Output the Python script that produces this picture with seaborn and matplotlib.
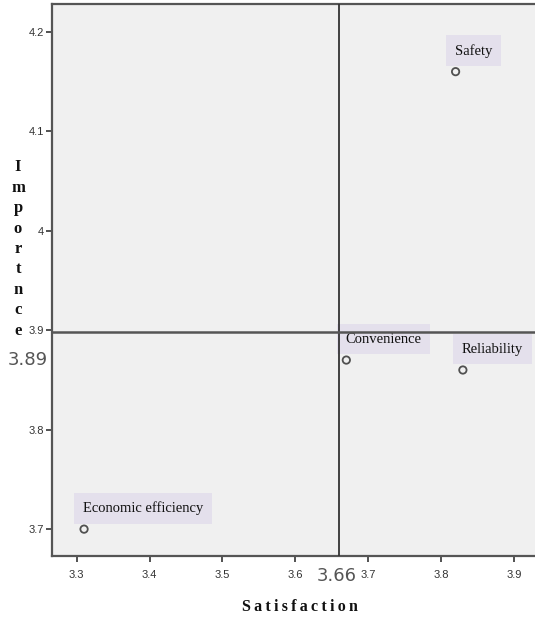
import matplotlib
matplotlib.use("Agg")
import matplotlib.pyplot as plt
import seaborn as sns
import pandas as pd

# Данные
factors = ["Safety", "Convenience", "Reliability", "Economic efficiency"]
satisfaction = [3.82, 3.67, 3.83, 3.31]
importance = [4.16, 3.87, 3.86, 3.70]
mean_satisfaction = 3.66
mean_importance = 3.898
mean_importance_label = "3.89"
mean_satisfaction_label = "3.66"
x_ticks = [3.3, 3.4, 3.5, 3.6, 3.7, 3.8, 3.9]
y_ticks = [3.7, 3.8, 3.9, 4.0, 4.1, 4.2]
y_tick_labels = ["3.7", "3.8", "3.9", "4", "4.1", "4.2"]

df = pd.DataFrame({"factor": factors, "satisfaction": satisfaction, "importance": importance})

sns.set_style("white")
plt.rcParams["font.family"] = ["Liberation Sans Narrow", "Liberation Sans", "DejaVu Sans"]

fig = plt.figure(figsize=(5.35, 6.19), dpi=100)
ax = fig.add_axes([0.0972, 0.1018, 0.9028, 0.8917])
ax.set_facecolor("#f0f0f0")

sns.scatterplot(data=df, x="satisfaction", y="importance", ax=ax,
                marker="o", s=28, facecolor="none", edgecolor="#505050", linewidth=1.3)

# Линии средних значений (поверх подписей)
ax.axvline(mean_satisfaction, color="#333333", lw=1.3, zorder=5)
ax.axhline(mean_importance, color="#555555", lw=1.8, zorder=5)

# Подписи точек
for _, r in df.iterrows():
    ax.annotate(r["factor"], (r["satisfaction"], r["importance"]),
                xytext=(-0.7, 15), textcoords="offset points", ha="left", va="center",
                fontsize=10.5, family=["Liberation Serif", "DejaVu Serif"], color="#111111",
                bbox=dict(boxstyle="square,pad=0.6", fc="#e4e0ec", ec="none"), zorder=3)

ax.set_xlim(3.266, 3.929)
ax.set_ylim(3.673, 4.228)
ax.set_xticks(x_ticks)
ax.set_xticklabels([str(t) for t in x_ticks])
ax.set_yticks(y_ticks)
ax.set_yticklabels(y_tick_labels)
ax.tick_params(axis="both", which="both", length=4, width=1.2, color="#333333",
               labelsize=8, labelcolor="#333333", bottom=True, left=True, direction="out")
ax.tick_params(axis="x", pad=6)
ax.tick_params(axis="y", pad=2)

for side in ["left", "bottom", "top"]:
    ax.spines[side].set_color("#555555")
    ax.spines[side].set_linewidth(1.6)
ax.spines["right"].set_visible(False)

ax.set_xlabel("")
ax.set_ylabel("")

# Подписи осей
fig.text(300 / 535, 1 - 607 / 619, "\u2009".join("Satisfaction"), ha="center", va="center",
         fontsize=11.5, fontweight="bold", family=["Liberation Serif", "DejaVu Serif"], color="#111111")
fig.text(18 / 535, 1 - 249 / 619, "\n".join("Importnce"), ha="center", va="center",
         fontsize=12, fontweight="bold", family=["Liberation Serif", "DejaVu Serif"],
         color="#111111", linespacing=1.37)

fig.text(28 / 535, 1 - 360 / 619, mean_importance_label, ha="center", va="center",
         fontsize=13, color="#555555", family=["Liberation Sans Narrow", "DejaVu Sans"])
fig.text(337 / 535, 1 - 576 / 619, mean_satisfaction_label, ha="center", va="center",
         fontsize=13, color="#555555", family=["Liberation Sans Narrow", "DejaVu Sans"])

plt.savefig("out.png", dpi=100)
